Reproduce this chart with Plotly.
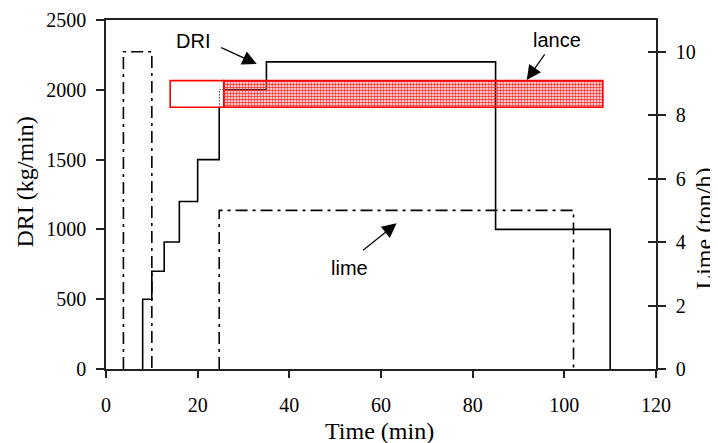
import plotly.graph_objects as go

# ---- data ----
# DRI feed rate (kg/min): step changes at given times (min)
dri_t = [8, 10, 12.7, 16, 20, 24.7, 35, 85, 110]
dri_v = [500, 700, 910, 1200, 1500, 2000, 2200, 1000, 0]
dri_start = 8

# Lime additions (ton/h): pulses
lime_on = [3.8, 24.7]
lime_off = [10, 102]
lime_rate = [10, 5]

# Lance operation (drawn as a band on the lime axis)
lance_start = 14
lance_switch = 25.7
lance_end = 108.4
lance_level = 8.67
lance_height = 0.84

x_ticks = [0, 20, 40, 60, 80, 100, 120]
dri_ticks = [0, 500, 1000, 1500, 2000, 2500]
lime_ticks = [0, 2, 4, 6, 8, 10]

SERIF = "Liberation Serif, Times New Roman, serif"
SANS = "Liberation Sans, Arial, sans-serif"

# build step paths
dx = [dri_start] + dri_t
dy = [0] + dri_v

lx, ly = [], []
for a, b, r in zip(lime_on, lime_off, lime_rate):
    lx += [a, a, b, b, None]
    ly += [0, r, r, 0, None]

fig = go.Figure()

fig.add_trace(go.Scatter(x=dx, y=dy, mode="lines", line=dict(color="black", width=1.6, shape="hv"),
                         yaxis="y", hoverinfo="skip"))

fig.add_trace(go.Scatter(x=lx, y=ly, mode="lines",
                         line=dict(color="black", width=1.6, dash="12px,5px,3px,5px"),
                         yaxis="y2", hoverinfo="skip"))

# lance band: white part and patterned part
fig.add_trace(go.Bar(orientation="h", base=[lance_start], x=[lance_switch - lance_start], y=[lance_level],
                     width=[lance_height], yaxis="y2",
                     marker=dict(color="rgba(0,0,0,0)", line=dict(color="red", width=1.6),
                                 pattern=dict(shape=".", fgcolor="white", bgcolor="rgba(0,0,0,0)",
                                              size=3, solidity=0.75, fgopacity=1)),
                     hoverinfo="skip"))
fig.add_trace(go.Bar(orientation="h", base=[lance_switch], x=[lance_end - lance_switch], y=[lance_level],
                     width=[lance_height], yaxis="y2",
                     marker=dict(color="rgba(0,0,0,0)", line=dict(color="red", width=1.6),
                                 pattern=dict(shape=".", fgcolor="#ff3030", bgcolor="rgba(0,0,0,0)",
                                              size=3, solidity=0.55, fgopacity=1)),
                     hoverinfo="skip"))

# invisible trace for inner ticks on right axis
fig.add_trace(go.Scatter(x=[None], y=[None], yaxis="y3", showlegend=False, hoverinfo="skip"))

axis_col = "#222222"
fig.update_layout(
    width=710, height=435,
    margin=dict(l=98, r=62, t=12, b=74),
    plot_bgcolor="white", paper_bgcolor="white",
    showlegend=False, barmode="overlay",
    xaxis=dict(range=[0, 120], tickvals=x_ticks, showgrid=False, zeroline=False,
               showline=True, mirror=True, linecolor=axis_col, linewidth=1.5,
               ticks="outside", ticklen=7, tickwidth=1.5, tickcolor=axis_col,
               ticklabelstandoff=10, automargin=False,
               tickfont=dict(family=SERIF, size=20, color="black")),
    yaxis=dict(range=[0, 2500], tickvals=dri_ticks, showgrid=False, zeroline=False,
               showline=True, mirror=True, linecolor=axis_col, linewidth=1.5,
               ticks="outside", ticklen=8, tickwidth=1.5, tickcolor=axis_col,
               ticklabelstandoff=6, automargin=False,
               tickfont=dict(family=SERIF, size=20, color="black")),
    yaxis2=dict(range=[0, 11], tickvals=lime_ticks, overlaying="y", side="right", anchor="x",
                showgrid=False, zeroline=False, showline=True, linecolor=axis_col, linewidth=1.5,
                ticks="outside", ticklen=8, tickwidth=1.5, tickcolor=axis_col,
                ticklabelstandoff=6, type="linear", automargin=False,
                tickfont=dict(family=SERIF, size=20, color="black")),
    yaxis3=dict(range=[0, 11], tickvals=lime_ticks, overlaying="y", side="right", anchor="x",
                showgrid=False, zeroline=False, showline=False, showticklabels=False,
                ticks="inside", ticklen=8, tickwidth=1.5, tickcolor=axis_col, automargin=False),
)

# axis titles as annotations
fig.add_annotation(text="Time (min)", xref="paper", yref="paper", x=0.5, y=0, xshift=-2, yshift=-62,
                   showarrow=False, font=dict(family=SERIF, size=24, color="black"),
                   xanchor="center", yanchor="middle")
fig.add_annotation(text="DRI (kg/min)", xref="paper", yref="paper", x=0, y=0.5, xshift=-82, yshift=12,
                   textangle=-90, showarrow=False, font=dict(family=SERIF, size=24, color="black"),
                   xanchor="center", yanchor="middle")
fig.add_annotation(text="Lime (ton/h)", xref="paper", yref="paper", x=1, y=0.5, xshift=47, yshift=-34,
                   textangle=-90, showarrow=False, font=dict(family=SERIF, size=24, color="black"),
                   xanchor="center", yanchor="middle", borderpad=0)

# labels with arrows
lab_font = dict(family=SANS, size=20, color="black")
fig.add_annotation(text="DRI", x=19.0, y=2350, xref="x", yref="y", showarrow=False, font=lab_font)
fig.add_annotation(text="", x=32.9, y=2185, xref="x", yref="y", ax=-37, ay=-17,
                   showarrow=True, arrowhead=2, arrowsize=2.4, arrowwidth=1.2, arrowcolor="black")

fig.add_annotation(text="lance", x=98.4, y=10.37, xref="x", yref="y2", showarrow=False, font=lab_font)
fig.add_annotation(text="", x=91.8, y=9.11, xref="x", yref="y2", ax=19, ay=-27,
                   showarrow=True, arrowhead=2, arrowsize=2.4, arrowwidth=1.2, arrowcolor="black")

fig.add_annotation(text="lime", x=53.2, y=3.18, xref="x", yref="y2", showarrow=False, font=lab_font)
fig.add_annotation(text="", x=63.4, y=4.59, xref="x", yref="y2", ax=-35, ay=28,
                   showarrow=True, arrowhead=2, arrowsize=2.4, arrowwidth=1.2, arrowcolor="black")

fig.write_html("out.html")
